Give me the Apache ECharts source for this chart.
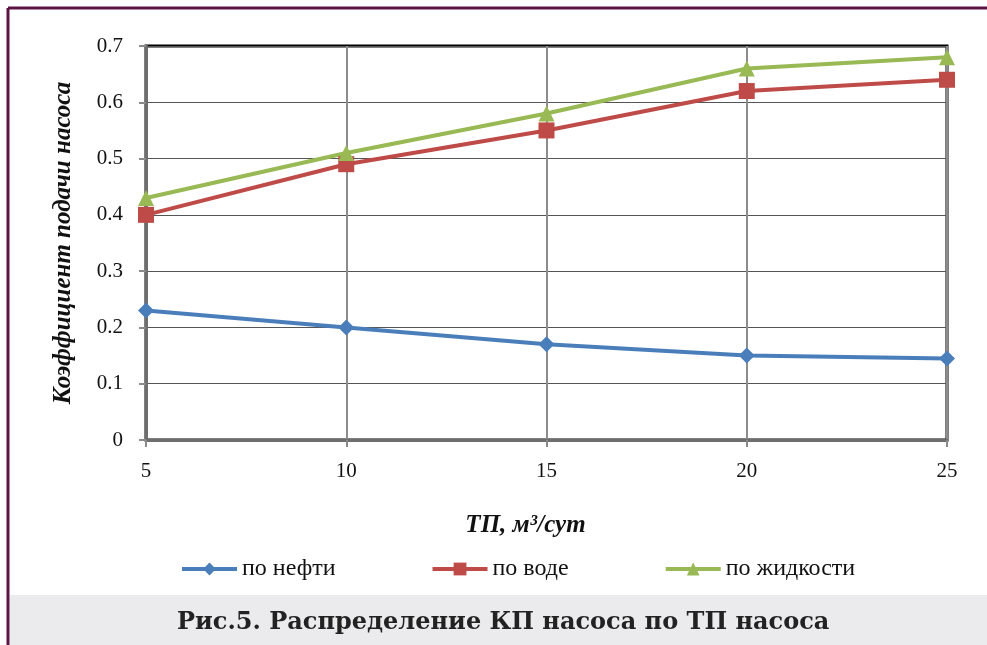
<!DOCTYPE html>
<html>
<head>
<meta charset="utf-8">
<script src="https://cdn.jsdelivr.net/npm/echarts@6/dist/echarts.min.js"></script>
<style>
  html, body { margin: 0; padding: 0; background: #fff; }
  #chart { width: 987px; height: 645px; }
</style>
</head>
<body>
<div id="chart"></div>
<script>
// Pump flow rate, m3/day
const rates = [5, 10, 15, 20, 25];
// Delivery coefficient by phase
const byOil = [0.23, 0.20, 0.17, 0.15, 0.145];
const byWater = [0.40, 0.49, 0.55, 0.62, 0.64];
const byLiquid = [0.43, 0.51, 0.58, 0.66, 0.68];
const seriesNames = ['по нефти', 'по воде', 'по жидкости'];
const yTicks = [0, 0.1, 0.2, 0.3, 0.4, 0.5, 0.6, 0.7];

const serif = '"Liberation Serif", "DejaVu Serif", serif';
const captionFont = '"DejaVu Serif", "Liberation Serif", serif';
const pairs = vals => rates.map((r, i) => [r, vals[i]]);

const chart = echarts.init(document.getElementById('chart'), null, { renderer: 'canvas' });

chart.setOption({
  animation: false,
  backgroundColor: '#fff',
  grid: {
    left: 146, right: 40, top: 46, bottom: 205,
    show: true, borderColor: '#000', borderWidth: 3, backgroundColor: 'transparent'
  },
  title: {
    text: 'Рис.5. Распределение КП насоса по ТП насоса',
    left: 172, top: 606,
    textStyle: { fontFamily: captionFont, fontWeight: 'bold', fontSize: 24, color: '#222' }
  },
  legend: {
    data: seriesNames,
    left: 175, top: 552,
    itemWidth: 55, itemHeight: 16, itemGap: 95,
    lineStyle: { width: 4 },
    textStyle: { fontFamily: serif, fontSize: 24, color: '#111' }
  },
  xAxis: {
    type: 'value', min: 5, max: 25, interval: 5,
    name: 'ТП, м³/сут', nameLocation: 'middle', nameGap: 73,
    nameTextStyle: { fontFamily: serif, fontStyle: 'italic', fontWeight: 'bold', fontSize: 25, color: '#111', padding: [0, 42, 0, 0] },
    axisLine: { show: true, onZero: false, lineStyle: { color: '#6e6e6e', width: 3 } },
    axisTick: { show: true, inside: false, length: 7, lineStyle: { color: '#8a8a8a', width: 2 } },
    axisLabel: { fontFamily: serif, fontSize: 21, color: '#111', margin: 21 },
    splitLine: { show: true, lineStyle: { color: '#8c8c8c', width: 2 } }
  },
  yAxis: {
    type: 'value', min: 0, max: 0.7, interval: 0.1,
    name: 'Коэффициент подачи насоса', nameLocation: 'middle', nameGap: 70,
    nameTextStyle: { fontFamily: serif, fontStyle: 'italic', fontWeight: 'bold', fontSize: 25, color: '#111' },
    axisLine: { show: true, lineStyle: { color: '#6e6e6e', width: 3 } },
    axisTick: { show: true, inside: false, length: 7, lineStyle: { color: '#8a8a8a', width: 2 } },
    axisLabel: {
      fontFamily: serif, fontSize: 21, color: '#111', margin: 23,
      formatter: v => {
        const hit = yTicks.find(t => Math.abs(t - v) < 1e-9);
        return hit === 0 ? '0' : String(hit);
      }
    },
    splitLine: { show: true, lineStyle: { color: '#555', width: 1 } }
  },
  graphic: [
    // caption band
    { type: 'rect', z: -1, shape: { x: 10, y: 595, width: 977, height: 50 }, style: { fill: '#ebebed' } },
    // frame around the figure
    { type: 'line', z: 10, shape: { x1: 8, y1: 8, x2: 987, y2: 8 }, style: { stroke: '#5b1444', lineWidth: 3 } },
    { type: 'line', z: 10, shape: { x1: 8, y1: 8, x2: 8, y2: 645 }, style: { stroke: '#5b1444', lineWidth: 3 } }
  ],
  series: [
    {
      name: seriesNames[0], type: 'line', data: pairs(byOil),
      symbol: 'diamond', symbolSize: 16,
      lineStyle: { color: '#4a7ebb', width: 4 },
      itemStyle: { color: '#4a7ebb' }
    },
    {
      name: seriesNames[1], type: 'line', data: pairs(byWater),
      symbol: 'rect', symbolSize: 16,
      lineStyle: { color: '#be4b48', width: 4 },
      itemStyle: { color: '#be4b48' }
    },
    {
      name: seriesNames[2], type: 'line', data: pairs(byLiquid),
      symbol: 'triangle', symbolSize: 16,
      lineStyle: { color: '#98b954', width: 4 },
      itemStyle: { color: '#98b954' }
    }
  ]
});
</script>
</body>
</html>
